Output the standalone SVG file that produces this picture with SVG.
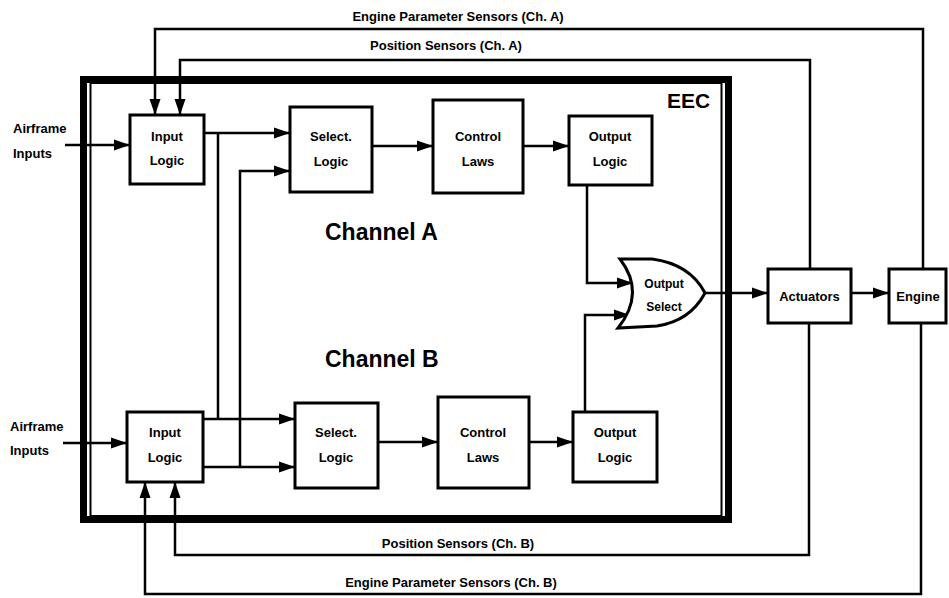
<svg xmlns="http://www.w3.org/2000/svg" width="949" height="598" viewBox="0 0 949 598">
<style>
.box{fill:#fff;stroke:#000;stroke-width:3}
.ln{fill:none;stroke:#000;stroke-width:2.5}
.arr{marker-end:url(#ah)}
text{font-family:"Liberation Sans",Arial,sans-serif;font-weight:bold;fill:#000}
.lb{font-size:13px;text-anchor:middle}
.sm{font-size:13px}
.sn{font-size:13px;text-anchor:middle}
.ch{font-size:23px}
</style>
<defs>
<marker id="ah" viewBox="0 0 16 12" refX="16" refY="6" markerWidth="16" markerHeight="12" markerUnits="userSpaceOnUse" orient="auto">
<path d="M0,0.5 L16,6 L0,11.5 Z" fill="#000"/>
</marker>
</defs>
<rect width="949" height="598" fill="#fff"/>

<g id="eec">
<rect x="83.5" y="79.5" width="645" height="440" fill="none" stroke="#000" stroke-width="7"/>
<rect x="90.5" y="83" width="631" height="433" fill="none" stroke="#000" stroke-width="2"/>
<text x="667" y="108" style="font-size:21px">EEC</text>
</g>

<text x="325" y="240" class="ch">Channel A</text>
<text x="325" y="367" class="ch">Channel B</text>

<g id="connectors">
<path class="ln arr" d="M65,145 H130"/>
<path class="ln arr" d="M63,443 H127"/>
<path class="ln arr" d="M204,133 H290"/>
<path class="ln" d="M218,133 V419"/>
<path class="ln arr" d="M240,467 V171 H290"/>
<path class="ln arr" d="M372,146 H433"/>
<path class="ln arr" d="M523,146 H569"/>
<path class="ln arr" d="M203,419 H295"/>
<path class="ln arr" d="M203,467 H295"/>
<path class="ln arr" d="M378,442 H438"/>
<path class="ln arr" d="M529,442 H573"/>
<path class="ln arr" d="M587,185 V283 H633"/>
<path class="ln arr" d="M585,412 V315 H630"/>
<path class="ln arr" d="M705,293 H768"/>
<path class="ln arr" d="M851,293 H889"/>
<path class="ln arr" d="M923,269 V29 H155 V115"/>
<path class="ln arr" d="M810,269 V60 H180 V115"/>
<path class="ln arr" d="M809,323 V555 H175 V482"/>
<path class="ln arr" d="M921,323 V594 H145 V482"/>
</g>

<text x="458" y="21" class="sn">Engine Parameter Sensors (Ch. A)</text>
<text x="446" y="50" class="sn">Position Sensors (Ch. A)</text>
<text x="458" y="548" class="sn">Position Sensors (Ch. B)</text>
<text x="451" y="587" class="sn">Engine Parameter Sensors (Ch. B)</text>

<g id="airframe-a">
<text x="13" y="133" class="sm">Airframe</text>
<text x="13" y="158" class="sm">Inputs</text>
</g>
<g id="airframe-b">
<text x="10" y="431" class="sm">Airframe</text>
<text x="10" y="455" class="sm">Inputs</text>
</g>

<g id="input-logic-a">
<rect class="box" x="130" y="115" width="74" height="69"/>
<text x="167" y="141" class="lb">Input</text>
<text x="167" y="165" class="lb">Logic</text>
</g>
<g id="select-logic-a">
<rect class="box" x="290" y="107" width="82" height="85"/>
<text x="331" y="141" class="lb">Select.</text>
<text x="331" y="166" class="lb">Logic</text>
</g>
<g id="control-laws-a">
<rect class="box" x="433" y="100" width="90" height="93"/>
<text x="478" y="141" class="lb">Control</text>
<text x="478" y="166" class="lb">Laws</text>
</g>
<g id="output-logic-a">
<rect class="box" x="569" y="116" width="83" height="69"/>
<text x="610" y="141" class="lb">Output</text>
<text x="610" y="166" class="lb">Logic</text>
</g>

<g id="input-logic-b">
<rect class="box" x="127" y="412" width="76" height="70"/>
<text x="165" y="437" class="lb">Input</text>
<text x="165" y="462" class="lb">Logic</text>
</g>
<g id="select-logic-b">
<rect class="box" x="295" y="403" width="83" height="85"/>
<text x="336" y="437" class="lb">Select.</text>
<text x="336" y="462" class="lb">Logic</text>
</g>
<g id="control-laws-b">
<rect class="box" x="438" y="397" width="91" height="91"/>
<text x="483" y="437" class="lb">Control</text>
<text x="483" y="462" class="lb">Laws</text>
</g>
<g id="output-logic-b">
<rect class="box" x="573" y="412" width="84" height="70"/>
<text x="615" y="437" class="lb">Output</text>
<text x="615" y="462" class="lb">Logic</text>
</g>

<g id="output-select">
<path class="box" d="M620,259 L652,259 Q690,264 705,293 Q690,321 657,326 L618,328 Q646,293 620,259 Z"/>
<text x="664" y="288" class="lb" style="font-size:12px">Output</text>
<text x="664" y="311" class="lb" style="font-size:12px">Select</text>
</g>

<g id="actuators">
<rect class="box" x="768" y="269" width="83" height="54"/>
<text x="809.5" y="301" class="lb">Actuators</text>
</g>
<g id="engine">
<rect class="box" x="889" y="269" width="57" height="54"/>
<text x="918" y="301" class="lb">Engine</text>
</g>
</svg>
